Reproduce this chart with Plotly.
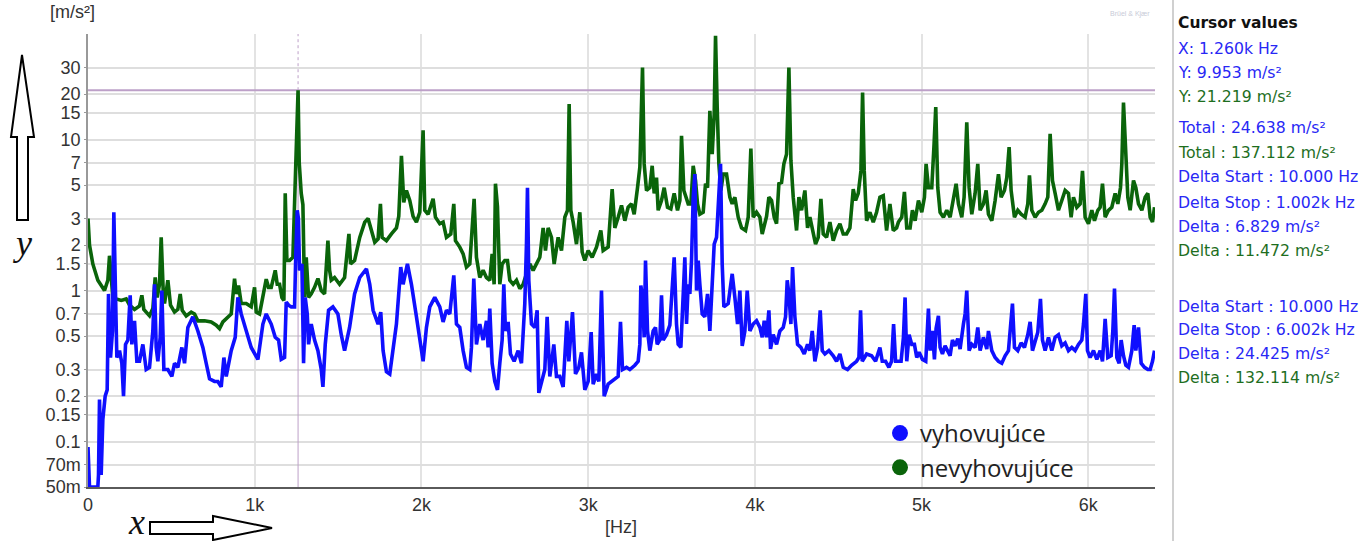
import plotly.graph_objects as go

# ---------------- data ----------------
# (frequency Hz, acceleration m/s^2)
green_pts = [
    (0, 3.0), (9, 2.0), (29, 1.5), (59, 1.17), (99, 1.0), (119, 1.17), (129, 1.7), (139, 1.22),
    (149, 0.9), (169, 0.88), (199, 0.86), (229, 0.88), (249, 0.8), (279, 0.75), (309, 0.79),
    (323, 0.93), (335, 0.75), (369, 0.68), (389, 0.76), (403, 1.22), (415, 0.9), (429, 1.1),
    (439, 2.25), (451, 1.0), (459, 0.82), (479, 1.17), (495, 0.8), (519, 0.72), (539, 0.75),
    (553, 0.95), (565, 0.74), (589, 0.68), (619, 0.72), (639, 0.7), (659, 0.63), (699, 0.63),
    (739, 0.62), (769, 0.59), (789, 0.56), (809, 0.62), (839, 0.67), (859, 0.7), (879, 1.2),
    (889, 0.95), (903, 1.08), (919, 0.82), (949, 0.82), (979, 0.78), (999, 1.05), (1009, 0.72),
    (1029, 0.7), (1049, 0.9), (1069, 1.19), (1083, 1.05), (1099, 1.05), (1123, 1.36),
    (1135, 1.1), (1149, 1.1), (1163, 0.9), (1175, 0.86), (1183, 4.4), (1193, 1.58),
    (1209, 1.58), (1229, 1.66), (1245, 5.6), (1255, 18.0), (1260, 21.2), (1267, 7.0),
    (1279, 4.4), (1289, 3.7), (1299, 0.9), (1309, 1.66), (1323, 0.9), (1339, 0.95),
    (1359, 1.05), (1379, 1.2), (1399, 1.0), (1419, 0.95), (1439, 2.14), (1449, 1.36),
    (1459, 1.17), (1479, 1.22), (1509, 1.1), (1539, 1.22), (1565, 2.37), (1575, 1.5),
    (1599, 1.58), (1630, 2.25), (1660, 2.84), (1680, 3.0), (1700, 2.5), (1720, 2.09),
    (1740, 2.2), (1754, 3.75), (1764, 2.25), (1790, 2.14), (1820, 2.37), (1850, 2.6),
    (1864, 3.1), (1880, 7.8), (1894, 3.84), (1910, 4.6), (1930, 3.95), (1950, 3.1),
    (1970, 2.84), (1990, 3.3), (2010, 11.5), (2020, 3.4), (2040, 3.2), (2056, 3.66),
    (2070, 4.05), (2084, 3.06), (2110, 2.77), (2130, 2.84), (2150, 2.25), (2176, 2.37),
    (2194, 3.75), (2204, 2.14), (2230, 1.94), (2250, 1.75), (2270, 1.43), (2290, 1.5),
    (2304, 2.5), (2316, 4.05), (2330, 1.66), (2350, 1.22), (2370, 1.36), (2390, 1.22),
    (2410, 1.17), (2424, 1.75), (2436, 1.1), (2444, 5.1), (2456, 3.6), (2470, 1.1),
    (2484, 1.5), (2500, 1.58), (2516, 1.58), (2530, 1.17), (2550, 1.1), (2570, 1.17),
    (2590, 1.03), (2610, 1.1), (2630, 1.29), (2650, 1.5), (2670, 1.36), (2690, 1.5),
    (2710, 1.66), (2730, 2.6), (2744, 1.84), (2760, 2.6), (2780, 2.25), (2796, 1.5),
    (2820, 2.25), (2840, 1.84), (2860, 3.06), (2876, 3.4), (2886, 17.2), (2896, 3.4),
    (2910, 2.84), (2930, 2.03), (2950, 3.3), (2964, 1.8), (2980, 1.58), (3000, 1.84),
    (3024, 1.66), (3050, 1.94), (3076, 2.5), (3090, 1.84), (3120, 1.94), (3144, 4.7),
    (3160, 2.6), (3180, 3.06), (3200, 3.66), (3220, 2.9), (3240, 3.56), (3260, 3.75),
    (3276, 3.2), (3296, 4.8), (3310, 6.55), (3326, 30.0), (3336, 6.9), (3350, 4.6),
    (3370, 4.8), (3384, 6.7), (3396, 4.4), (3410, 5.6), (3420, 3.4), (3440, 3.95),
    (3456, 4.8), (3476, 3.56), (3496, 3.47), (3516, 4.4), (3536, 3.4), (3550, 3.95),
    (3560, 10.6), (3574, 4.6), (3600, 3.75), (3616, 3.75), (3630, 6.7), (3644, 5.35),
    (3656, 3.75), (3670, 3.2), (3690, 3.3), (3704, 5.1), (3716, 4.8), (3730, 15.5),
    (3744, 8.0), (3756, 14.8), (3764, 48.7), (3774, 16.4), (3784, 6.9), (3796, 4.6),
    (3810, 5.9), (3830, 5.9), (3850, 4.15), (3864, 3.75), (3880, 4.15), (3900, 3.06),
    (3920, 2.6), (3944, 2.5), (3960, 3.06), (3976, 8.7), (3990, 3.06), (4010, 3.3),
    (4030, 3.06), (4044, 2.37), (4070, 3.1), (4084, 4.15), (4100, 3.95), (4116, 3.06),
    (4130, 2.77), (4144, 5.1), (4160, 5.2), (4174, 6.9), (4190, 8.0), (4204, 30.0),
    (4216, 7.3), (4230, 4.15), (4250, 2.5), (4264, 4.15), (4280, 3.4), (4300, 4.6),
    (4316, 2.6), (4330, 3.06), (4350, 2.37), (4364, 2.03), (4380, 2.25), (4396, 4.05),
    (4410, 2.37), (4430, 2.25), (4450, 2.84), (4470, 2.14), (4490, 2.5), (4510, 2.77),
    (4530, 2.37), (4550, 2.37), (4570, 2.6), (4590, 4.7), (4604, 3.95), (4620, 4.4),
    (4636, 6.2), (4646, 20.5), (4656, 6.2), (4670, 2.9), (4690, 3.3), (4710, 2.84),
    (4730, 3.3), (4750, 4.15), (4770, 4.25), (4790, 2.5), (4810, 3.75), (4830, 2.5),
    (4850, 2.6), (4861, 2.84), (4881, 3.06), (4897, 4.5), (4911, 2.6), (4931, 2.6),
    (4945, 3.4), (4961, 2.9), (4981, 3.95), (5001, 3.3), (5017, 4.15), (5027, 6.9),
    (5041, 4.8), (5061, 4.8), (5075, 9.4), (5085, 16.4), (5097, 4.8), (5111, 3.3),
    (5131, 3.06), (5151, 3.4), (5171, 3.06), (5191, 3.95), (5207, 5.1), (5221, 3.75),
    (5241, 3.06), (5255, 4.15), (5271, 13.0), (5285, 4.8), (5301, 3.2), (5321, 4.4),
    (5337, 6.9), (5351, 3.4), (5371, 3.75), (5387, 4.6), (5401, 3.2), (5421, 2.9),
    (5441, 3.95), (5461, 5.9), (5477, 4.15), (5497, 4.6), (5511, 5.6), (5525, 8.9),
    (5537, 4.6), (5557, 3.06), (5577, 3.4), (5597, 3.2), (5621, 3.06), (5637, 3.75),
    (5647, 5.8), (5661, 3.4), (5681, 3.06), (5701, 3.3), (5721, 3.4), (5741, 3.75),
    (5757, 4.15), (5771, 10.9), (5785, 5.35), (5801, 4.4), (5821, 3.4), (5841, 3.95),
    (5861, 4.6), (5881, 4.4), (5897, 3.06), (5911, 4.15), (5931, 3.56), (5951, 3.75),
    (5965, 6.2), (5981, 3.06), (6001, 2.77), (6021, 3.4), (6037, 2.9), (6057, 3.4),
    (6071, 3.56), (6085, 5.1), (6101, 3.06), (6121, 3.4), (6141, 3.56), (6161, 4.4),
    (6177, 3.75), (6193, 4.8), (6201, 6.9), (6211, 17.6), (6221, 8.9), (6237, 4.15),
    (6251, 3.4), (6271, 5.35), (6285, 4.8), (6301, 3.75), (6321, 3.4), (6341, 4.15),
    (6357, 4.4), (6371, 3.06), (6385, 2.84), (6397, 3.56),
]

blue_pts = [
    (0, 0.092), (9, 0.05), (59, 0.05), (63, 0.06), (69, 0.19), (79, 0.06), (89, 0.14),
    (103, 0.2), (115, 0.22), (123, 0.95), (135, 0.36), (147, 0.54), (155, 3.3), (165, 0.7),
    (173, 0.36), (189, 0.4), (203, 0.33), (213, 0.2), (225, 0.44), (239, 0.47), (253, 0.93),
    (263, 0.44), (279, 0.63), (293, 0.34), (309, 0.34), (329, 0.44), (349, 0.3), (369, 0.31),
    (389, 0.54), (399, 1.1), (409, 0.42), (419, 0.34), (433, 0.49), (443, 1.0), (455, 0.3),
    (479, 0.3), (503, 0.27), (519, 0.33), (539, 0.31), (563, 0.42), (579, 0.33), (599, 0.57),
    (629, 0.67), (659, 0.54), (689, 0.42), (709, 0.33), (729, 0.26), (759, 0.25), (779, 0.25),
    (799, 0.23), (815, 0.36), (829, 0.27), (859, 0.4), (883, 0.49), (899, 0.9), (919, 0.7),
    (949, 0.54), (979, 0.42), (1019, 0.35), (1049, 0.6), (1069, 0.7), (1099, 0.6),
    (1123, 0.49), (1143, 0.47), (1159, 0.35), (1179, 0.36), (1189, 0.84), (1203, 0.8),
    (1219, 0.78), (1239, 0.78), (1245, 1.5), (1255, 3.4), (1262, 3.0), (1269, 1.36),
    (1283, 1.5), (1293, 0.33), (1303, 0.9), (1315, 0.7), (1323, 0.44), (1339, 0.6),
    (1359, 0.47), (1379, 0.4), (1399, 0.3), (1409, 0.23), (1423, 0.44), (1443, 0.74),
    (1469, 0.78), (1499, 0.7), (1519, 0.51), (1539, 0.4), (1569, 0.57), (1599, 0.95),
    (1630, 1.22), (1670, 1.39), (1690, 1.1), (1710, 0.74), (1740, 0.6), (1756, 0.72),
    (1770, 0.4), (1790, 0.29), (1810, 0.28), (1830, 0.4), (1850, 0.6), (1876, 1.43),
    (1890, 1.1), (1916, 1.5), (1940, 1.1), (1970, 0.67), (1994, 0.44), (2010, 0.34),
    (2030, 0.57), (2050, 0.78), (2080, 0.9), (2110, 0.78), (2130, 0.62), (2150, 0.74),
    (2170, 0.7), (2180, 0.95), (2194, 1.26), (2210, 0.6), (2230, 0.57), (2250, 0.4),
    (2270, 0.31), (2290, 0.3), (2300, 0.42), (2314, 1.2), (2330, 0.44), (2350, 0.6),
    (2370, 0.47), (2390, 0.63), (2400, 0.42), (2410, 0.76), (2424, 0.33), (2440, 0.25),
    (2456, 0.22), (2470, 0.33), (2484, 0.47), (2494, 1.1), (2504, 0.54), (2520, 0.62),
    (2534, 0.38), (2556, 0.34), (2580, 0.4), (2600, 0.33), (2620, 0.82), (2630, 2.04),
    (2636, 4.8), (2644, 1.17), (2660, 0.6), (2680, 0.57), (2694, 0.74), (2704, 0.21),
    (2720, 0.25), (2740, 0.3), (2754, 0.67), (2770, 0.27), (2794, 0.44), (2810, 0.27),
    (2830, 0.27), (2850, 0.23), (2872, 0.63), (2884, 0.34), (2906, 0.72), (2924, 0.28),
    (2944, 0.31), (2960, 0.39), (2980, 0.22), (3000, 0.25), (3018, 0.53), (3030, 0.24),
    (3050, 0.28), (3064, 0.25), (3080, 1.0), (3096, 0.2), (3120, 0.24), (3140, 0.25),
    (3160, 0.26), (3180, 0.27), (3194, 0.62), (3206, 0.3), (3230, 0.31), (3250, 0.3),
    (3280, 0.32), (3300, 0.34), (3310, 0.44), (3316, 1.08), (3326, 0.9), (3336, 0.49),
    (3344, 1.58), (3356, 0.54), (3370, 0.4), (3390, 0.54), (3404, 0.57), (3414, 0.44),
    (3430, 0.47), (3440, 0.93), (3450, 0.47), (3470, 0.51), (3490, 0.59), (3516, 1.66),
    (3530, 0.6), (3540, 0.44), (3556, 0.42), (3570, 1.1), (3580, 1.66), (3590, 0.6),
    (3600, 1.1), (3610, 0.95), (3620, 1.58), (3630, 4.15), (3640, 5.9), (3650, 1.0),
    (3660, 1.58), (3670, 1.1), (3684, 0.7), (3700, 0.67), (3716, 0.95), (3730, 0.54),
    (3744, 1.0), (3756, 2.03), (3770, 2.25), (3784, 4.6), (3794, 6.9), (3804, 1.5),
    (3814, 0.78), (3840, 0.82), (3864, 1.29), (3880, 0.9), (3896, 0.6), (3910, 1.0),
    (3924, 0.43), (3940, 0.54), (3954, 1.0), (3970, 0.54), (3990, 0.6), (4010, 0.63),
    (4030, 0.57), (4044, 0.49), (4056, 0.63), (4070, 0.49), (4084, 0.74), (4094, 0.41),
    (4110, 0.51), (4130, 0.44), (4150, 0.54), (4170, 0.57), (4184, 0.67), (4194, 1.17),
    (4204, 0.95), (4216, 0.6), (4226, 1.43), (4240, 0.67), (4256, 0.44), (4276, 0.42),
    (4296, 0.38), (4316, 0.44), (4330, 0.4), (4344, 0.54), (4360, 0.34), (4376, 0.42),
    (4392, 0.74), (4404, 0.4), (4420, 0.38), (4444, 0.4), (4470, 0.37), (4490, 0.34),
    (4510, 0.38), (4530, 0.31), (4556, 0.3), (4580, 0.32), (4610, 0.34), (4624, 0.36),
    (4634, 0.74), (4644, 0.34), (4670, 0.38), (4700, 0.37), (4724, 0.34), (4750, 0.42),
    (4764, 0.34), (4784, 0.34), (4804, 0.31), (4820, 0.34), (4832, 0.6), (4844, 0.34),
    (4857, 0.34), (4877, 0.34), (4891, 0.49), (4901, 0.9), (4911, 0.34), (4925, 0.51),
    (4941, 0.44), (4957, 0.44), (4971, 0.36), (4985, 0.39), (5005, 0.35), (5025, 0.34),
    (5041, 0.76), (5051, 0.4), (5065, 0.54), (5077, 0.35), (5087, 0.56), (5101, 0.68),
    (5111, 0.42), (5125, 0.38), (5141, 0.43), (5157, 0.39), (5171, 0.37), (5185, 0.47),
    (5201, 0.43), (5217, 0.48), (5231, 0.41), (5251, 0.6), (5261, 0.7), (5271, 1.0),
    (5285, 0.4), (5301, 0.44), (5321, 0.42), (5337, 0.57), (5351, 0.4), (5371, 0.49),
    (5391, 0.41), (5401, 0.54), (5421, 0.4), (5441, 0.36), (5461, 0.34), (5481, 0.33),
    (5501, 0.37), (5521, 0.4), (5533, 0.54), (5545, 0.82), (5557, 0.42), (5577, 0.4),
    (5597, 0.45), (5617, 0.42), (5637, 0.51), (5651, 0.62), (5665, 0.4), (5681, 0.47),
    (5697, 0.53), (5713, 0.88), (5725, 0.47), (5741, 0.4), (5761, 0.49), (5781, 0.4),
    (5801, 0.49), (5821, 0.51), (5841, 0.43), (5861, 0.45), (5881, 0.4), (5901, 0.42),
    (5921, 0.4), (5941, 0.44), (5961, 0.47), (5971, 0.6), (5985, 0.95), (5995, 0.4),
    (6011, 0.36), (6031, 0.4), (6051, 0.35), (6071, 0.4), (6085, 0.34), (6101, 0.65),
    (6117, 0.36), (6137, 0.37), (6147, 0.54), (6157, 1.03), (6171, 0.36), (6185, 0.33),
    (6197, 0.47), (6211, 0.37), (6225, 0.32), (6241, 0.31), (6261, 0.4), (6275, 0.59),
    (6285, 0.4), (6301, 0.57), (6317, 0.33), (6337, 0.31), (6357, 0.3), (6371, 0.3),
    (6385, 0.34), (6397, 0.4),
]

green_freq = [p[0] for p in green_pts]
green_acc = [p[1] for p in green_pts]
blue_freq = [p[0] for p in blue_pts]
blue_acc = [p[1] for p in blue_pts]

series_names = ["vyhovujúce", "nevyhovujúce"]

cursor_x = 1260
cursor_y = 21.219
x_range = [0, 6400]
y_range_vals = [0.05, 50]

x_tickvals = [0, 1000, 2000, 3000, 4000, 5000, 6000]
x_ticktext = ["0", "1k", "2k", "3k", "4k", "5k", "6k"]
y_tickvals = [0.05, 0.07, 0.1, 0.15, 0.2, 0.3, 0.5, 0.7, 1, 1.5, 2, 3, 5, 7, 10, 15, 20, 30]
y_ticktext = ["50m", "70m", "0.1", "0.15", "0.2", "0.3", "0.5", "0.7", "1", "1.5", "2", "3",
              "5", "7", "10", "15", "20", "30"]

panel_lines = [
    ("Cursor values", "black", True),
    ("X: 1.260k Hz", "blue", False),
    ("Y: 9.953 m/s²", "blue", False),
    ("Y: 21.219 m/s²", "green", False),
    ("Total : 24.638 m/s²", "blue", False),
    ("Total : 137.112 m/s²", "green", False),
    ("Delta Start : 10.000 Hz", "blue", False),
    ("Delta Stop : 1.002k Hz", "blue", False),
    ("Delta : 6.829 m/s²", "blue", False),
    ("Delta : 11.472 m/s²", "green", False),
    ("Delta Start : 10.000 Hz", "blue", False),
    ("Delta Stop : 6.002k Hz", "blue", False),
    ("Delta : 24.425 m/s²", "blue", False),
    ("Delta : 132.114 m/s²", "green", False),
]
panel_y_px = [23, 48, 72, 96, 127, 152, 177, 202, 226, 250, 306, 329, 353, 377]

# ---------------- styling / geometry ----------------
W, H = 1359, 541
L, R, T, B = 88, 1155, 34, 487
BLUE = "rgb(15,15,255)"
GREEN = "rgb(10,100,10)"
PANEL_COL = {"black": "#111111", "blue": "rgb(40,40,245)", "green": "rgb(30,110,30)"}
CURSOR = "#bda0c8"


def px2x(px):
    return (px - L) / (R - L)


def py2y(py):
    return (B - py) / (B - T)


def path(points):
    s = "M " + " L ".join(f"{px2x(a):.5f},{py2y(b):.5f}" for a, b in points) + " Z"
    return s


fig = go.Figure()

# cursor lines (beneath the spectra)
fig.add_trace(go.Scatter(x=x_range, y=[cursor_y, cursor_y], mode="lines",
                         line=dict(color=CURSOR, width=2), showlegend=False, hoverinfo="skip"))
fig.add_trace(go.Scatter(x=[cursor_x, cursor_x], y=[y_range_vals[0], cursor_y], mode="lines",
                         line=dict(color=CURSOR, width=1), showlegend=False, hoverinfo="skip"))
fig.add_trace(go.Scatter(x=[cursor_x, cursor_x], y=[cursor_y, y_range_vals[1]], mode="lines",
                         line=dict(color=CURSOR, width=1, dash="dot"), showlegend=False,
                         hoverinfo="skip"))

fig.add_trace(go.Scatter(x=green_freq, y=green_acc, mode="lines",
                         line=dict(color=GREEN, width=3.6), showlegend=False))
fig.add_trace(go.Scatter(x=blue_freq, y=blue_acc, mode="lines",
                         line=dict(color=BLUE, width=3.6), showlegend=False))

# legend entries (circle markers)
fig.add_trace(go.Scatter(x=[None], y=[None], mode="markers", name=series_names[0],
                         marker=dict(color=BLUE, size=16), legendrank=1))
fig.add_trace(go.Scatter(x=[None], y=[None], mode="markers", name=series_names[1],
                         marker=dict(color=GREEN, size=16), legendrank=2))

shapes = [
    # white box behind legend
    dict(type="rect", xref="paper", yref="paper", x0=px2x(877), x1=px2x(1155),
         y0=py2y(486), y1=py2y(407), fillcolor="white", line=dict(width=0), layer="between"),
    # right panel separator
    dict(type="line", xref="paper", yref="paper", x0=px2x(1173), x1=px2x(1173),
         y0=py2y(541), y1=py2y(0), line=dict(color="#d0d0d0", width=2)),
    # up arrow
    dict(type="path", xref="paper", yref="paper",
         path=path([(22, 55), (34, 137), (28, 137), (28, 220), (17, 220), (17, 137), (11, 137)]),
         line=dict(color="black", width=2), fillcolor="white"),
    # right arrow
    dict(type="path", xref="paper", yref="paper",
         path=path([(150, 522), (213, 522), (213, 516), (272, 528), (213, 540), (213, 534),
                    (150, 534)]),
         line=dict(color="black", width=2), fillcolor="white"),
]

annotations = [
    dict(text="[m/s²]", x=px2x(72), y=py2y(12), xref="paper", yref="paper", showarrow=False,
         xanchor="center", yanchor="middle",
         font=dict(family="Liberation Sans", size=18, color="#333")),
    dict(text="[Hz]", x=px2x(621), y=py2y(527), xref="paper", yref="paper", showarrow=False,
         xanchor="center", yanchor="middle",
         font=dict(family="Liberation Sans", size=18, color="#333")),
    dict(text="<i>y</i>", x=px2x(22), y=py2y(243), xref="paper", yref="paper", showarrow=False,
         xanchor="center", yanchor="middle",
         font=dict(family="Liberation Serif", size=36, color="#111")),
    dict(text="<i>x</i>", x=px2x(136), y=py2y(522), xref="paper", yref="paper", showarrow=False,
         xanchor="center", yanchor="middle",
         font=dict(family="Liberation Serif", size=36, color="#111")),
    dict(text="Brüel & Kjær", x=px2x(1130), y=py2y(14), xref="paper", yref="paper",
         showarrow=False, xanchor="center", yanchor="middle",
         font=dict(family="Liberation Sans", size=7, color="#c8cbd8")),
]
for (txt, col, bold), ypx in zip(panel_lines, panel_y_px):
    annotations.append(dict(
        text=f"<b>{txt}</b>" if bold else txt, x=px2x(1176), y=py2y(ypx),
        xref="paper", yref="paper", showarrow=False, xanchor="left", yanchor="middle",
        font=dict(family="DejaVu Sans", size=15.5 if bold else 15.7, color=PANEL_COL[col])))

fig.update_layout(
    width=W, height=H,
    margin=dict(l=L, r=W - R, t=T, b=H - B, pad=0),
    plot_bgcolor="white", paper_bgcolor="white",
    showlegend=True,
    legend=dict(x=px2x(880), y=py2y(411), xanchor="left", yanchor="top",
                bgcolor="rgba(0,0,0,0)", borderwidth=0, itemsizing="trace",
                font=dict(family="Open Sans", size=24, color="#222")),
    shapes=shapes,
    annotations=annotations,
    xaxis=dict(range=x_range, tickvals=x_tickvals, ticktext=x_ticktext,
               showgrid=True, gridcolor="#e3e3e3", gridwidth=1.5, zeroline=False,
               showline=True, linecolor="#5a5a5a", linewidth=2,
               ticks="", tickfont=dict(family="Liberation Sans", size=18, color="#333")),
    yaxis=dict(type="log", range=[-1.30103, 1.69897], tickvals=y_tickvals, ticktext=y_ticktext,
               showgrid=True, gridcolor="#dedede", gridwidth=1.5, zeroline=False,
               showline=True, linecolor="#999", linewidth=1.5,
               ticks="outside", ticklen=2, tickcolor="#999",
               tickfont=dict(family="Liberation Sans", size=18, color="#333")),
)

fig.write_html("out.html", include_plotlyjs=True, config={"displayModeBar": False})
